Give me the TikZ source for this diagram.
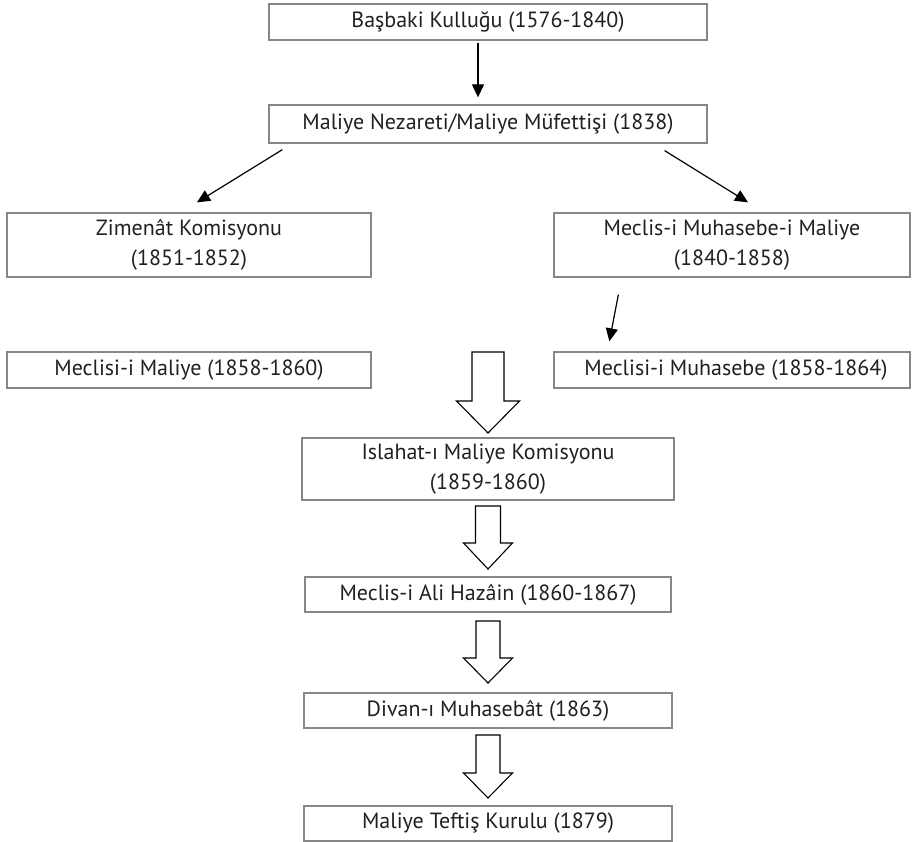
\documentclass[tikz,border=0pt]{standalone}
\usepackage{fontspec}
\setmainfont{PT Sans}
\usepackage{tikz}
\usetikzlibrary{arrows.meta,calc}
\definecolor{boxline}{RGB}{135,135,135}
\definecolor{txt}{RGB}{35,31,32}
\tikzset{
  kutu/.style ={draw=boxline, line width=1.3pt, inner sep=0pt, align=center,
                text=txt, font=\fontsize{22}{30}\selectfont},
  ptr/.style  ={draw=black, line width=1.2pt, -{Triangle[length=13pt,width=12pt]}},
  blk/.style  ={draw=black, line width=1.1pt, line join=miter, fill=white},
}

\begin{document}
\begin{tikzpicture}[x=1pt,y=-1pt]
  \useasboundingbox (0,0) rectangle (913,842);
  % top row
  \node[kutu,minimum width=438pt,minimum height=36pt] (basbaki) at (488,22) {Başbaki Kulluğu (1576-1840)};
  \node[kutu,minimum width=438pt,minimum height=38pt] (nezaret) at (488,124) {Maliye Nezareti/Maliye Müfettişi (1838)};
  % two columns
  \node[kutu,minimum width=364pt,minimum height=64pt] (zimenat) at (189,245) {Zimenât Komisyonu\\(1851-1852)};
  \node[kutu,minimum width=356pt,minimum height=64pt] (muhmaliye) at (732,245) {Meclis-i Muhasebe-i Maliye\\(1840-1858)};
  \node[kutu,minimum width=364pt,minimum height=36pt] (mecmaliye) at (189,370) {Meclisi-i Maliye (1858-1860)};
  \node[kutu,minimum width=356pt,minimum height=36pt] (mecmuhasebe) at (732,370) {\hspace*{8pt}Meclisi-i Muhasebe (1858-1864)};
  % middle chain
  \node[kutu,minimum width=372pt,minimum height=62pt] (islahat) at (488,469) {Islahat-ı Maliye Komisyonu\\(1859-1860)};
  \node[kutu,minimum width=366pt,minimum height=35pt] (hazain) at (488,594.5) {Meclis-i Ali Hazâin (1860-1867)};
  \node[kutu,minimum width=368pt,minimum height=35pt] (divan) at (488,710.5) {Divan-ı Muhasebât (1863)};
  \node[kutu,minimum width=368pt,minimum height=35pt] (teftis) at (488,823.5) {Maliye Teftiş Kurulu (1879)};

  % thin arrows
  \draw[ptr] ([xshift=-10pt,yshift=-2pt]basbaki.south) -- ([xshift=-10pt,yshift=7pt]nezaret.north);
  \draw[ptr] ([xshift=14pt,yshift=-6pt]nezaret.south west) -- ([xshift=8pt,yshift=10pt]zimenat.north);
  \draw[ptr] ([xshift=-43pt,yshift=-7pt]nezaret.south east) -- ([xshift=16pt,yshift=10pt]muhmaliye.north);
  \draw[ptr] ([xshift=65pt,yshift=-17pt]muhmaliye.south west) -- ([xshift=56pt,yshift=10pt]mecmuhasebe.north west);

  % hollow block arrows
  \foreach \yt/\yb/\yp/\s/\h in {352/401/433/16/31.5, 506/543/569/12.5/24.5, 621/658/683/12/24.5, 735/773/798/12/24.5}
    \draw[blk] (488-\s,\yt) -- (488+\s,\yt) -- (488+\s,\yb) -- (488+\h,\yb) -- (488,\yp)
      -- (488-\h,\yb) -- (488-\s,\yb) -- cycle;
\end{tikzpicture}
\end{document}
